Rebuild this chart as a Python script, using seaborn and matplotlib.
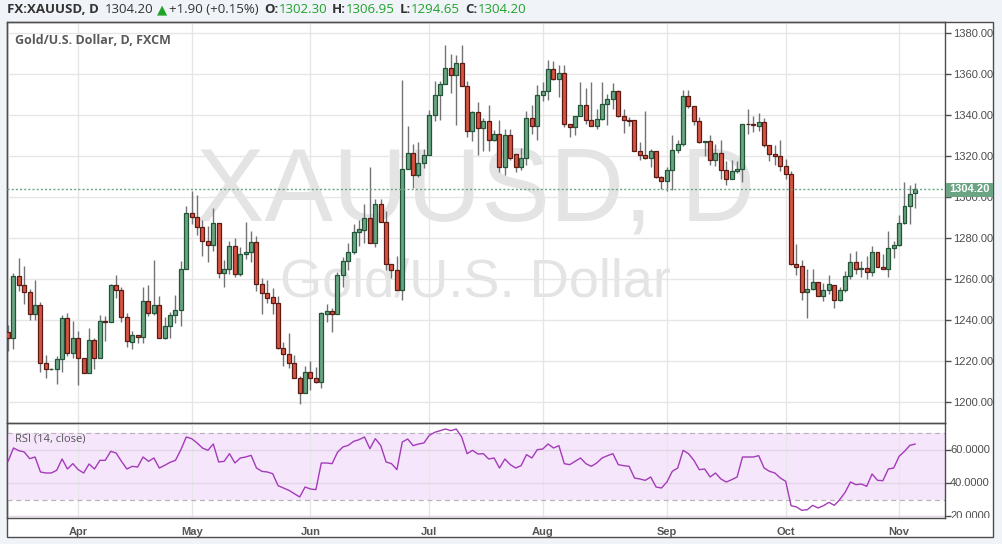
import matplotlib
matplotlib.use("Agg")
import matplotlib.pyplot as plt
import seaborn as sns
import pandas as pd
from matplotlib.patches import Rectangle

# daily candles, FXCM gold, 15 Mar - 4 Nov 2016
dates = pd.bdate_range("2016-03-15", "2016-11-04")

opens = [
    1234.3, 1231.5, 1261.6, 1257.1, 1253.8, 1242.9, 1247.3, 1219.0, 1216.1, 1216.3,
    1221.0, 1241.3, 1223.9, 1231.5, 1221.5, 1214.5, 1230.2, 1221.5, 1239.7, 1239.2,
    1257.1, 1254.6, 1241.8, 1229.5, 1232.8, 1231.8, 1249.4, 1243.4, 1247.3, 1231.2,
    1237.1, 1242.4, 1244.9, 1264.9, 1292.5, 1290.6, 1285.7, 1278.5, 1276.6, 1287.3,
    1262.9, 1264.9, 1276.3, 1262.4, 1272.2, 1273.3, 1278.2, 1257.6, 1253.5, 1251.4,
    1248.3, 1226.3, 1223.4, 1219.0, 1212.0, 1204.4, 1214.6, 1212.0, 1210.1, 1243.3,
    1244.4, 1242.9, 1262.0, 1268.9, 1273.3, 1283.1, 1284.1, 1290.1, 1277.6, 1296.6,
    1288.1, 1267.3, 1264.4, 1254.6, 1313.6, 1321.8, 1310.7, 1316.7, 1320.5, 1340.0,
    1349.8, 1355.1, 1362.9, 1359.5, 1365.3, 1354.3, 1332.4, 1341.6, 1333.8, 1337.1,
    1327.8, 1331.1, 1314.8, 1330.2, 1321.3, 1314.8, 1319.3, 1338.9, 1334.6, 1350.1,
    1351.9, 1362.8, 1357.6, 1360.8, 1335.9, 1334.3, 1339.5, 1345.2, 1337.6, 1334.6,
    1338.4, 1345.7, 1348.1, 1351.7, 1339.5, 1337.9, 1337.6, 1322.6, 1320.8, 1319.3,
    1322.4, 1309.9, 1308.0, 1313.2, 1323.3, 1326.2, 1349.3, 1344.4, 1337.1, 1327.0,
    1327.3, 1318.0, 1321.8, 1313.5, 1309.1, 1312.7, 1314.0, 1335.9, 1335.9, 1334.6,
    1336.7, 1325.4, 1321.3, 1320.0, 1315.1, 1311.2, 1267.6, 1266.3, 1253.8, 1255.1,
    1258.7, 1251.9, 1254.6, 1257.2, 1249.9, 1254.8, 1261.5, 1268.3, 1265.0, 1265.5,
    1263.4, 1273.5, 1266.2, 1264.9, 1275.3, 1276.9, 1287.5, 1295.9, 1302.3,
]
highs = [
    1237.7, 1262.9, 1270.6, 1266.5, 1255.1, 1259.7, 1248.9, 1222.9, 1216.6, 1222.6,
    1242.6, 1243.7, 1239.7, 1234.8, 1221.5, 1236.1, 1231.5, 1242.6, 1242.1, 1257.9,
    1262.1, 1256.3, 1243.5, 1235.0, 1232.8, 1256.3, 1257.2, 1269.4, 1251.9, 1241.6,
    1244.1, 1252.4, 1268.9, 1295.8, 1303.1, 1301.0, 1288.8, 1286.0, 1294.8, 1287.3,
    1269.4, 1278.7, 1280.3, 1275.8, 1288.0, 1283.6, 1281.1, 1260.8, 1259.7, 1255.6,
    1251.9, 1229.4, 1233.7, 1223.1, 1212.8, 1217.7, 1220.2, 1217.2, 1244.1, 1247.8,
    1245.9, 1263.6, 1270.9, 1277.9, 1286.8, 1288.8, 1296.6, 1314.8, 1299.1, 1299.1,
    1293.3, 1267.3, 1271.4, 1357.4, 1334.8, 1326.2, 1327.0, 1323.4, 1342.4, 1356.7,
    1356.7, 1374.1, 1369.7, 1369.2, 1374.1, 1356.7, 1342.0, 1346.5, 1338.7, 1344.9,
    1332.7, 1337.9, 1333.5, 1333.2, 1321.3, 1324.2, 1342.0, 1344.9, 1354.6, 1356.3,
    1366.8, 1366.5, 1364.4, 1364.4, 1335.9, 1339.5, 1356.3, 1353.3, 1356.3, 1343.3,
    1356.3, 1350.6, 1355.8, 1352.2, 1343.3, 1339.2, 1337.9, 1327.0, 1342.1, 1323.7,
    1322.4, 1310.2, 1314.8, 1330.2, 1328.1, 1352.2, 1352.2, 1344.4, 1339.2, 1327.3,
    1330.2, 1325.9, 1327.8, 1317.6, 1318.0, 1317.6, 1335.9, 1343.3, 1339.8, 1341.3,
    1338.9, 1325.4, 1325.4, 1327.8, 1318.9, 1312.7, 1277.1, 1269.3, 1265.2, 1264.9,
    1258.7, 1258.2, 1261.9, 1257.2, 1256.1, 1264.2, 1272.7, 1274.0, 1269.1, 1271.5,
    1276.4, 1273.5, 1272.4, 1283.7, 1278.9, 1291.5, 1307.6, 1306.2, 1306.95,
]
lows = [
    1225.0, 1226.2, 1254.3, 1247.8, 1240.2, 1240.2, 1215.0, 1211.7, 1215.6, 1209.1,
    1215.0, 1222.6, 1221.8, 1208.5, 1214.5, 1214.5, 1216.4, 1221.5, 1229.8, 1239.2,
    1250.7, 1239.3, 1227.0, 1226.0, 1229.0, 1229.0, 1242.1, 1242.6, 1231.2, 1230.8,
    1231.2, 1238.5, 1237.4, 1264.9, 1286.8, 1281.8, 1271.4, 1268.6, 1273.8, 1260.8,
    1256.4, 1262.4, 1261.3, 1261.6, 1270.1, 1268.6, 1254.3, 1243.3, 1248.6, 1242.9,
    1225.9, 1217.7, 1216.9, 1212.0, 1199.3, 1204.4, 1205.9, 1209.6, 1206.8, 1239.3,
    1234.5, 1242.9, 1256.3, 1264.4, 1272.2, 1276.3, 1277.6, 1277.6, 1275.8, 1288.1,
    1264.4, 1260.8, 1254.6, 1249.8, 1313.6, 1304.7, 1310.1, 1314.5, 1320.5, 1337.0,
    1337.5, 1355.1, 1350.7, 1335.1, 1354.3, 1329.4, 1327.5, 1320.5, 1322.4, 1322.4,
    1327.5, 1312.4, 1310.9, 1318.0, 1312.4, 1313.5, 1315.6, 1331.1, 1327.8, 1347.0,
    1347.3, 1357.1, 1348.9, 1334.3, 1329.4, 1330.2, 1339.5, 1335.9, 1334.6, 1333.5,
    1337.6, 1335.1, 1343.3, 1339.2, 1331.4, 1334.6, 1322.6, 1318.4, 1318.9, 1314.8,
    1309.6, 1304.2, 1303.1, 1303.7, 1321.8, 1324.9, 1343.7, 1335.1, 1326.5, 1320.0,
    1315.6, 1315.3, 1309.1, 1306.2, 1308.8, 1311.9, 1307.5, 1331.1, 1332.0, 1332.2,
    1324.6, 1317.6, 1315.6, 1312.7, 1309.1, 1267.2, 1262.0, 1249.8, 1241.1, 1254.6,
    1251.9, 1249.4, 1253.0, 1246.0, 1249.6, 1253.7, 1260.2, 1262.6, 1261.0, 1260.2,
    1261.8, 1265.9, 1264.9, 1261.0, 1270.4, 1276.4, 1287.0, 1286.8, 1294.65,
]
closes = [
    1231.5, 1261.6, 1257.1, 1254.0, 1242.9, 1247.3, 1219.0, 1216.1, 1216.3, 1221.0,
    1241.3, 1223.9, 1231.5, 1221.5, 1214.5, 1230.2, 1221.5, 1239.7, 1239.2, 1257.1,
    1254.6, 1241.8, 1229.9, 1232.8, 1231.8, 1249.4, 1243.4, 1247.3, 1231.2, 1237.1,
    1242.4, 1244.9, 1264.9, 1292.5, 1290.6, 1285.7, 1278.5, 1276.6, 1287.3, 1262.9,
    1264.9, 1276.3, 1262.4, 1272.2, 1273.3, 1278.2, 1257.6, 1253.5, 1251.1, 1248.3,
    1226.3, 1223.4, 1219.0, 1212.0, 1204.4, 1214.6, 1212.0, 1210.1, 1243.4, 1244.6,
    1242.9, 1262.0, 1268.9, 1273.3, 1283.1, 1284.4, 1290.1, 1277.6, 1296.6, 1288.1,
    1267.3, 1264.4, 1254.6, 1313.6, 1321.8, 1310.7, 1316.7, 1320.5, 1340.0, 1349.8,
    1355.1, 1362.9, 1359.5, 1365.3, 1354.3, 1332.4, 1341.6, 1334.0, 1337.1, 1327.8,
    1331.1, 1314.8, 1330.2, 1319.3, 1314.8, 1319.3, 1338.9, 1334.6, 1350.1, 1351.9,
    1362.8, 1357.6, 1360.8, 1335.9, 1334.3, 1339.5, 1345.2, 1337.6, 1334.6, 1338.4,
    1345.7, 1348.1, 1351.7, 1339.5, 1337.9, 1337.2, 1322.6, 1320.8, 1319.3, 1322.4,
    1309.9, 1308.0, 1313.2, 1323.3, 1326.2, 1349.3, 1344.4, 1337.1, 1327.0, 1327.3,
    1318.0, 1321.8, 1313.5, 1309.1, 1312.7, 1314.0, 1335.9, 1335.6, 1335.4, 1336.7,
    1325.4, 1321.3, 1320.0, 1315.1, 1311.2, 1267.6, 1266.0, 1253.8, 1255.1, 1258.7,
    1251.9, 1254.6, 1257.6, 1249.9, 1254.8, 1261.5, 1268.3, 1265.0, 1265.5, 1263.4,
    1273.5, 1265.9, 1264.9, 1275.3, 1276.9, 1287.5, 1295.9, 1301.6, 1304.2,
]
rsi = [
    53, 61, 59.4, 58.6, 54.6, 55.6, 46.6, 46, 46, 47.6,
    54.4, 48.4, 51.6, 48, 46, 51.4, 48.4, 53.6, 53.6, 59,
    58, 53, 48.4, 50, 49.6, 55.6, 53, 55, 49, 50.6,
    52.4, 53.6, 60, 67.6, 66.6, 64, 61, 59.6, 63.4, 52.6,
    53, 57.6, 52, 55, 55.6, 56.6, 49, 47, 46.6, 45.6,
    38.4, 37, 35.6, 33.6, 31.6, 37.6, 36.4, 36, 52, 52,
    51.6, 58.4, 61.6, 62.6, 65, 66, 67.6, 60.6, 66.6, 62.6,
    52.6, 51.6, 48, 64.6, 66.4, 62.4, 63.4, 64, 68.6, 70.4,
    71.4, 72.4, 71.4, 72.4, 67.6, 57.6, 59.6, 57.4, 57.6, 54.4,
    55, 49, 54.4, 51, 49, 50.4, 57, 55, 60, 60.4,
    63.4, 61, 62.4, 51.6, 51, 53, 55, 51.6, 50, 52,
    55, 56.4, 57.6, 51, 50.4, 50, 43, 42.4, 41.6, 43.6,
    37.6, 37, 40.6, 47, 49, 59.6, 57.6, 53.6, 48, 48.4,
    43.6, 46, 42.4, 40.6, 42, 43.6, 55.6, 55.6, 55.6, 56.4,
    49, 47, 46, 43, 41, 26.4, 25.6, 23.6, 24, 26.6,
    25, 26.4, 28.4, 26.6, 30, 34.4, 40.6, 39, 39.4, 38,
    45.4, 41.6, 41.4, 48.4, 49, 56, 59, 62.6, 63.4,
]

price_ticks = [1200, 1220, 1240, 1260, 1280, 1300, 1320, 1340, 1360, 1380]
rsi_ticks = [20, 40, 60]
last_price = 1304.20

df = pd.DataFrame({"date": dates, "open": opens, "high": highs,
                   "low": lows, "close": closes, "rsi": rsi})
df["idx"] = range(len(df))
df["up"] = df["close"] >= df["open"]

month_first = df.groupby(df["date"].dt.to_period("M"))["idx"].first().iloc[1:]
month_labels = [p.strftime("%b") for p in month_first.index]

sns.set_style("white")
plt.rcParams["font.family"] = ["Open Sans", "DejaVu Sans"]

W, H = 1002, 544
fig = plt.figure(figsize=(W / 100, H / 100), dpi=100)
fig.patch.set_facecolor("#f0f3f7")

def fx(px):
    return px / W

def fy(py):
    return (H - py) / H

frame = Rectangle((fx(7), fy(537)), fx(986), 515 / H, transform=fig.transFigure,
                  facecolor="white", edgecolor="#4d4d4d", lw=1, zorder=-5)
fig.add_artist(frame)

ax = fig.add_axes([fx(7), fy(423), fx(938), 401 / H])
ax_rsi = fig.add_axes([fx(7), fy(518), fx(938), 95 / H])

grid_c = "#e6e6e6"
axis_c = "#4d4d4d"
up_fill, up_edge = "#6ba583", "#225437"
dn_fill, dn_edge = "#d75442", "#5b1a13"

for a in (ax, ax_rsi):
    a.set_facecolor("none")
    for s in a.spines.values():
        s.set_color(axis_c)
        s.set_linewidth(1)
    a.set_xlim(-0.2, 173.5)
    a.set_xticks(month_first.values)
    a.grid(True, axis="x", color=grid_c, lw=1)
    a.set_axisbelow(True)

# watermark
ax.text(0.5, 0.57, "XAUUSD, D", transform=ax.transAxes, ha="center", va="center",
        fontsize=74, color="#e4e4e4", family="Liberation Sans", zorder=0)
ax.text(0.5, 0.35, "Gold/U.S. Dollar", transform=ax.transAxes, ha="center", va="center",
        fontsize=39, color="#e4e4e4", family="Liberation Sans", zorder=0)

# candles
ax.vlines(df["idx"], df["low"], df["high"], color="#737375", lw=1, zorder=2)
body_lo = df[["open", "close"]].min(axis=1)
body_h = (df["close"] - df["open"]).abs().clip(lower=0.35)
ax.bar(df["idx"], body_h, bottom=body_lo, width=0.74,
       color=[up_fill if u else dn_fill for u in df["up"]],
       edgecolor=[up_edge if u else dn_edge for u in df["up"]],
       linewidth=0.9, zorder=3)

ax.axhline(last_price, color="#6ba583", lw=1, ls=(0, (1.5, 1.5)), zorder=4)
ax.set_ylim(1189.9, 1385.5)
ax.set_yticks(price_ticks)
ax.set_yticklabels([f"{v:.2f}" for v in price_ticks])
ax.yaxis.tick_right()
ax.grid(True, axis="y", color=grid_c, lw=1)
ax.tick_params(axis="y", right=True, direction="out", length=4, width=1, color=axis_c,
               pad=2, labelsize=8, labelcolor="#4d4d4d")
for lbl in ax.get_yticklabels():
    lbl.set_family("Liberation Sans")
ax.tick_params(axis="x", bottom=False, labelbottom=False)

ax.text(0.0085, 0.955, "Gold/U.S. Dollar, D, FXCM", transform=ax.transAxes,
        ha="left", va="center", fontsize=9, fontweight="bold", color="#5a5a5a")

# last price tag
fig.add_artist(Rectangle((fx(946), fy(196.5)), fx(47), 14 / H, transform=fig.transFigure,
                         facecolor="#6ba583", edgecolor="none", zorder=5))
fig.text(fx(969.5), fy(189.5), f"{last_price:.2f}", ha="center", va="center",
         fontsize=8, fontweight="bold", color="white", family="Liberation Sans", zorder=6)

# RSI panel
ax_rsi.axhspan(30, 70, color="#f5e6fc", lw=0, zorder=0)
for lvl in (30, 70):
    ax_rsi.axhline(lvl, color="#bdb2bd", lw=0.9, ls=(0, (4, 3)), zorder=1)
sns.lineplot(data=df, x="idx", y="rsi", ax=ax_rsi, color="#a43bb8", lw=1, zorder=3)
ax_rsi.set_ylim(19, 76)
ax_rsi.set_yticks(rsi_ticks)
ax_rsi.yaxis.tick_right()
ax_rsi.grid(True, axis="y", color="#e2d6e6", lw=1)
ax_rsi.tick_params(axis="y", right=True, direction="out", length=4, width=1, color=axis_c,
                   labelright=False)
ax_rsi.set_xticklabels(month_labels)
ax_rsi.tick_params(axis="x", bottom=False, pad=3, labelsize=8, labelcolor="#555555")
for lbl in ax_rsi.get_xticklabels():
    lbl.set_fontweight("bold")
    lbl.set_family("Liberation Sans")
ax_rsi.set_xlabel("")
ax_rsi.set_ylabel("")
ax.set_xlabel("")
ax.set_ylabel("")
ax_rsi.text(0.0085, 0.83, "RSI (14, close)", transform=ax_rsi.transAxes, ha="left",
            va="center", fontsize=8, color="#555555")

# RSI scale labels, clipped at the panel bottom
ax_lab = fig.add_axes([fx(945), fy(518), fx(50), 95 / H])
ax_lab.set_axis_off()
ax_lab.set_xlim(0, 1)
ax_lab.set_ylim(19, 76)
for v in rsi_ticks:
    ax_lab.text(0.1, v, f"{v:.4f}", ha="left", va="center", fontsize=8,
                color="#4d4d4d", family="Liberation Sans", clip_on=True)

# header line
renderer = fig.canvas.get_renderer()
green = "#1fa32a"
dark = "#333333"
pieces = [
    ("FX:XAUUSD, D", dark, "bold", 6),
    ("1304.20", dark, "normal", 4),
    ("\u25b2", green, "normal", 1),
    ("+1.90 (+0.15%)", dark, "normal", 6),
    ("O:", dark, "bold", 0),
    ("1302.30", green, "normal", 5),
    ("H:", dark, "bold", 0),
    ("1306.95", green, "normal", 5),
    ("L:", dark, "bold", 0),
    ("1294.65", green, "normal", 5),
    ("C:", dark, "bold", 0),
    ("1304.20", green, "normal", 0),
]
xpos = 7
for s, c, w, gap in pieces:
    t = fig.text(fx(xpos), fy(9.5), s, ha="left", va="center", fontsize=9.5,
                 color=c, fontweight=w)
    bb = t.get_window_extent(renderer)
    xpos = bb.x1 + gap

fig.savefig("out.png", dpi=100, facecolor=fig.get_facecolor())
